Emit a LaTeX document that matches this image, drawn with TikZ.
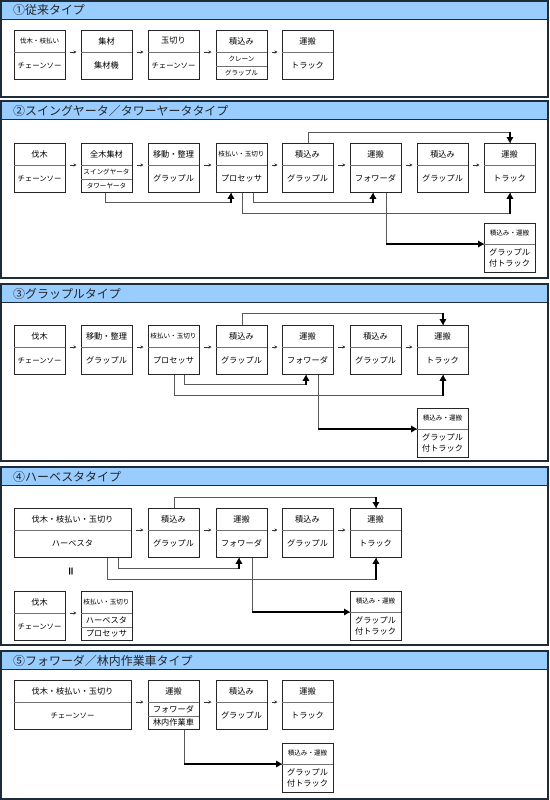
\documentclass[tikz,border=0pt]{standalone}
\usepackage{fontspec}
\setmainfont{Noto Sans CJK JP}
\usetikzlibrary{arrows.meta}
\definecolor{headcolor}{HTML}{99CCFF}
\definecolor{framecolor}{HTML}{1E2B38}
\newcommand{\smtxt}{\fontsize{6.6}{8}\selectfont}
\newcommand{\midtxt}{\fontsize{7.4}{9}\selectfont}

\begin{document}
\begin{tikzpicture}[x=1bp, y=-1bp,
    box/.style={draw=black!85, line width=0.9bp, inner sep=0pt, minimum height=49bp, anchor=north west},
    divline/.style={draw=black!55, line width=0.8bp},
    txt/.style={font=\fontsize{8.2}{11.5}\selectfont, inner sep=0pt},
    flow/.style={draw=black!80, line width=0.5bp, -{Stealth[length=3bp,width=3bp]}, shorten <=4.5bp, shorten >=4.5bp},
    link/.style={draw=black!65, line width=0.9bp},
    linkend/.style={draw=black, line width=2bp, -{Triangle[length=6bp,width=6.5bp]}},
    secframe/.style={draw=framecolor, line width=1.3bp},
    headtxt/.style={font=\fontsize{12}{14}\selectfont, anchor=west, inner sep=0pt, text=black!85}]

    \tikzset{%
        pics/unit/.style args={#1/#2/#3}{%
                code={%
                        \node[box, minimum width=#1bp] (-box) at (0,0) {};
                        \coordinate (-l) at (0,22);
                        \coordinate (-r) at (#1,22);
                        \draw[divline] (0,22) -- (#1,22);
                        \node[txt] at (#1/2,11) {#2};
                        \node[txt] at (#1/2,35.5) {#3};
                    }
            },
        pics/unitthree/.style args={#1/#2/#3/#4}{%
                code={%
                        \node[box, minimum width=#1bp] (-box) at (0,0) {};
                        \coordinate (-l) at (0,22);
                        \coordinate (-r) at (#1,22);
                        \draw[divline] (0,22) -- (#1,22);
                        \draw[divline] (0,36) -- (#1,36);
                        \node[txt] at (#1/2,11) {#2};
                        \node[txt] at (#1/2,29) {#3};
                        \node[txt] at (#1/2,42.5) {#4};
                    }
            },
        pics/truckbox/.style args={#1/#2/#3}{%
                code={%
                        \node[box, minimum width=51bp] (-box) at (0,0) {};
                        \coordinate (-l) at (0,21);
                        \draw[divline] (0,21) -- (51,21);
                        \node[txt] at (25.5,10.5) {#1};
                        \node[txt, align=center] at (25.5,35) {#2\\#3};
                    }
            }
    }

    \fill[white] (0,0) rectangle (550,800);
    \useasboundingbox (0,0) rectangle (550,800);

    % section frames and headers
    \foreach \top/\bot in {1/97, 101/278, 284/461, 467/645, 651/799} {%
            \fill[headcolor] (1,\top) rectangle (548,\top+18.5);
            \draw[secframe] (1,\top+18.5) -- (548,\top+18.5);
            \draw[secframe] (1,\top) rectangle (548,\bot);
        }
    \node[headtxt] (h1) at (13,10) {①従来タイプ};
    \node[headtxt] (h2) at (13,110.5) {②スイングヤータ／タワーヤータタイプ};
    \node[headtxt] (h3) at (13,293.5) {③グラップルタイプ};
    \node[headtxt] (h4) at (13,476.5) {④ハーベスタタイプ};
    \node[headtxt] (h5) at (13,660.5) {⑤フォワーダ／林内作業車タイプ};

    % 1
    \pic (s1a) at (14,30) {unit=51/{\smtxt 伐木・枝払い}/{\midtxt チェーンソー}};
    \pic (s1b) at (81,30) {unit=51/集材/集材機};
    \pic (s1c) at (148,30) {unit=51/玉切り/{\midtxt チェーンソー}};
    \pic (s1d) at (216,30) {unitthree=51/積込み/{\smtxt クレーン}/{\smtxt グラップル}};
    \pic (s1e) at (282,30) {unit=51/運搬/トラック};
    \foreach \a/\b in {s1a/s1b, s1b/s1c, s1c/s1d, s1d/s1e}
    \draw[flow] (\a-r) -- (\b-l);

    % 2
    \pic (s2a) at (14,143) {unit=51/伐木/{\midtxt チェーンソー}};
    \pic (s2b) at (81,143) {unitthree=51/全木集材/{\smtxt スイングヤータ}/{\smtxt タワーヤータ}};
    \pic (s2c) at (148,143) {unit=51/移動・整理/グラップル};
    \pic (s2d) at (216,143) {unit=51/{\smtxt 枝払い・玉切り}/プロセッサ};
    \pic (s2e) at (282,143) {unit=51/積込み/グラップル};
    \pic (s2f) at (350,143) {unit=51/運搬/フォワーダ};
    \pic (s2g) at (417,143) {unit=51/積込み/グラップル};
    \pic (s2h) at (484,143) {unit=51/運搬/トラック};
    \pic (s2i) at (484,223) {truckbox={\smtxt 積込み・運搬}/グラップル/付トラック};
    \foreach \a/\b in {s2a/s2b, s2b/s2c, s2c/s2d, s2d/s2e, s2e/s2f, s2f/s2g, s2g/s2h}
    \draw[flow] (\a-r) -- (\b-l);

    \draw[link] (s2e-box.north) -- ++(0,-11) -| coordinate[pos=.5] (s2k1) (s2h-box.north);
    \draw[linkend] (s2k1) -- (s2h-box.north);
    \draw[link] ([xshift=-2bp]s2b-box.south) -- ++(0,10) -| coordinate[pos=.5] (s2k2) ([xshift=-11bp]s2d-box.south);
    \draw[linkend] (s2k2) -- ([xshift=-11bp]s2d-box.south);
    \draw[link] ([xshift=11bp]s2d-box.south) -- ++(0,10) -| coordinate[pos=.5] (s2k3) ([xshift=-3bp]s2f-box.south);
    \draw[linkend] (s2k3) -- ([xshift=-3bp]s2f-box.south);
    \draw[link] (s2d-box.south) -- ++(0,21) -| coordinate[pos=.5] (s2k4) (s2h-box.south);
    \draw[linkend] (s2k4) -- (s2h-box.south);
    \draw[link] ([xshift=10bp]s2f-box.south) |- coordinate[pos=.5] (s2k5) (s2i-l);
    \draw[linkend] (s2k5) -- (s2i-l);

    % 3
    \pic (s3a) at (14,325) {unit=51/伐木/{\midtxt チェーンソー}};
    \pic (s3b) at (81,325) {unit=51/移動・整理/グラップル};
    \pic (s3c) at (148,325) {unit=51/{\smtxt 枝払い・玉切り}/プロセッサ};
    \pic (s3d) at (216,325) {unit=51/積込み/グラップル};
    \pic (s3e) at (282,325) {unit=51/運搬/フォワーダ};
    \pic (s3f) at (350,325) {unit=51/積込み/グラップル};
    \pic (s3g) at (417,325) {unit=51/運搬/トラック};
    \pic (s3h) at (417,408) {truckbox={\smtxt 積込み・運搬}/グラップル/付トラック};
    \foreach \a/\b in {s3a/s3b, s3b/s3c, s3c/s3d, s3d/s3e, s3e/s3f, s3f/s3g}
    \draw[flow] (\a-r) -- (\b-l);

    \draw[link] (s3d-box.north) -- ++(0,-12) -| coordinate[pos=.5] (s3k1) (s3g-box.north);
    \draw[linkend] (s3k1) -- (s3g-box.north);
    \draw[link] ([xshift=10bp]s3c-box.south) -- ++(0,10) -| coordinate[pos=.5] (s3k2) ([xshift=-2bp]s3e-box.south);
    \draw[linkend] (s3k2) -- ([xshift=-2bp]s3e-box.south);
    \draw[link] (s3c-box.south) -- ++(0,21) -| coordinate[pos=.5] (s3k3) (s3g-box.south);
    \draw[linkend] (s3k3) -- (s3g-box.south);
    \draw[link] ([xshift=10bp]s3e-box.south) |- coordinate[pos=.5] (s3k4) (s3h-l);
    \draw[linkend] (s3k4) -- (s3h-l);

    % 4
    \pic (s4a) at (14,508) {unit=117/伐木・枝払い・玉切り/ハーベスタ};
    \pic (s4b) at (148,508) {unit=51/積込み/グラップル};
    \pic (s4c) at (216,508) {unit=51/運搬/フォワーダ};
    \pic (s4d) at (282,508) {unit=51/積込み/グラップル};
    \pic (s4e) at (350,508) {unit=51/運搬/トラック};
    \pic (s4f) at (350,591) {truckbox={\smtxt 積込み・運搬}/グラップル/付トラック};
    \pic (s4g) at (14,591) {unit=51/伐木/{\midtxt チェーンソー}};
    \pic (s4h) at (81,591) {unitthree=51/{\smtxt 枝払い・玉切り}/ハーベスタ/プロセッサ};
    \node[txt, font=\fontsize{10}{12}\bfseries, rotate=90] (s4eq) at (72,572) {＝};
    \foreach \a/\b in {s4a/s4b, s4b/s4c, s4c/s4d, s4d/s4e, s4g/s4h}
    \draw[flow] (\a-r) -- (\b-l);

    \draw[link] (s4b-box.north) -- ++(0,-11) -| coordinate[pos=.5] (s4k1) (s4e-box.north);
    \draw[linkend] (s4k1) -- (s4e-box.north);
    \draw[link] ([xshift=45bp]s4a-box.south) -- ++(0,11) -| coordinate[pos=.5] (s4k2) ([xshift=-3bp]s4c-box.south);
    \draw[linkend] (s4k2) -- ([xshift=-3bp]s4c-box.south);
    \draw[link] ([xshift=34bp]s4a-box.south) -- ++(0,22) -| coordinate[pos=.5] (s4k3) (s4e-box.south);
    \draw[linkend] (s4k3) -- (s4e-box.south);
    \draw[link] ([xshift=10bp]s4c-box.south) |- coordinate[pos=.5] (s4k4) (s4f-l);
    \draw[linkend] (s4k4) -- (s4f-l);

    % 5
    \pic (s5a) at (14,680) {unit=117/伐木・枝払い・玉切り/{\midtxt チェーンソー}};
    \pic (s5b) at (148,680) {unitthree=51/運搬/フォワーダ/林内作業車};
    \pic (s5c) at (216,680) {unit=51/積込み/グラップル};
    \pic (s5d) at (282,680) {unit=51/運搬/トラック};
    \pic (s5e) at (282,743) {truckbox={\smtxt 積込み・運搬}/グラップル/付トラック};
    \foreach \a/\b in {s5a/s5b, s5b/s5c, s5c/s5d}
    \draw[flow] (\a-r) -- (\b-l);

    \draw[link] ([xshift=10bp]s5b-box.south) |- coordinate[pos=.5] (s5k1) (s5e-l);
    \draw[linkend] (s5k1) -- (s5e-l);

\end{tikzpicture}
\end{document}
